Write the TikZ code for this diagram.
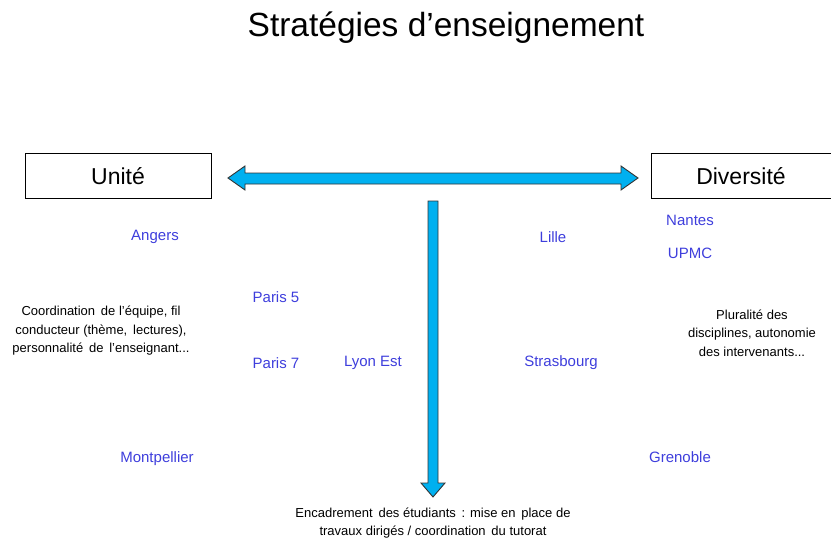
\documentclass[tikz,border=0pt]{standalone}
\usepackage{fontspec}
\setmainfont{Liberation Sans}
\definecolor{fleche}{RGB}{0,176,240}
\definecolor{site}{RGB}{62,62,220}
\tikzset{
  pole/.style={draw, thick, minimum width=186pt, minimum height=45pt, inner sep=0pt, font=\fontsize{23}{26}\selectfont},
  ville/.style={text=site, inner sep=0pt, font=\fontsize{15}{17}\selectfont},
  remarque/.style={align=center, inner sep=0pt, font=\fontsize{13}{18.5}\selectfont},
  grossefleche/.style={fill=fleche, draw=black!80, line width=0.9pt, line join=miter}
}
\begin{document}
\begin{tikzpicture}[x=1pt, y=-1pt]
\useasboundingbox (0,0) rectangle (831,543);

\node[font=\fontsize{33.5}{36}\selectfont] (titre) at (446,28) {Stratégies d’enseignement};

\node[pole] (unite) at (118,176) {Unité};
\node[pole] (diversite) at (744,176) {\hspace*{-6pt}Diversité};

% axe horizontal
\coordinate (gauche) at (228,178);
\coordinate (droite) at (638,178);
\draw[grossefleche] (gauche) -- ++(17,-12) -- ++(0,7) -- ++(376,0) -- ++(0,-7)
  -- (droite) -- ++(-17,12) -- ++(0,-6) -- ++(-376,0) -- ++(0,6) -- cycle;

% axe vertical
\coordinate (haut) at (433,201);
\coordinate (bas) at (433,497);
\draw[grossefleche] (haut) ++(-5,0) -- ++(10,0) -- ++(0,282) -- ++(7,0)
  -- (bas) -- ++(-12,-14) -- ++(7,0) -- cycle;

\node[ville] (angers) at (155,237) {Angers};
\node[ville] (lille) at (553,237) {Lille};
\node[ville] (nantes) at (690,220) {Nantes};
\node[ville] (upmc) at (690,253) {UPMC};
\node[ville] (paris5) at (276,297) {Paris 5};
\node[ville] (paris7) at (276,363) {Paris 7};
\node[ville] (lyon) at (373,363) {Lyon Est};
\node[ville] (strasbourg) at (561,363) {Strasbourg};
\node[ville] (montpellier) at (157,459) {Montpellier};
\node[ville] (grenoble) at (680,457) {Grenoble};

\node[remarque] (coordination) at (101,331) {Coordination\, de l’équipe, fil\\conducteur (thème,\, lectures),\\personnalité\, de\, l’enseignant...};
\node[remarque] (pluralite) at (752,333) {Pluralité des\\disciplines, autonomie\\des intervenants...};
\node[remarque] (encadrement) at (433,523) {Encadrement\, des étudiants\, : mise en\, place de\\travaux dirigés / coordination\, du tutorat};

\end{tikzpicture}
\end{document}
